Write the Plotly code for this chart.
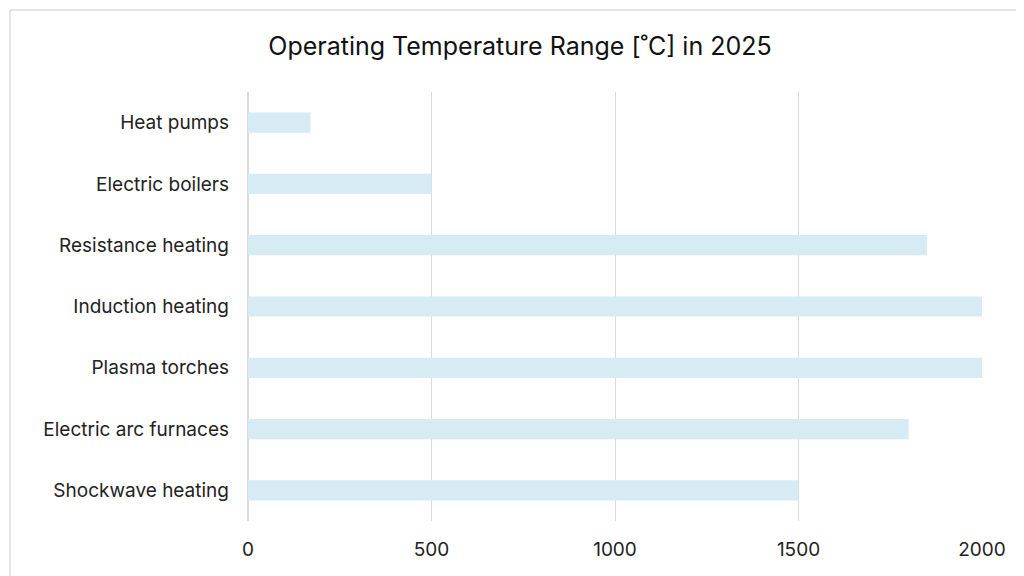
import plotly.graph_objects as go

technologies = ["Heat pumps", "Electric boilers", "Resistance heating", "Induction heating",
                "Plasma torches", "Electric arc furnaces", "Shockwave heating"]
max_temp = [170, 500, 1850, 2000, 2000, 1800, 1500]
tick_vals = [0, 500, 1000, 1500, 2000]

fig = go.Figure(go.Bar(
    x=max_temp, y=technologies, orientation="h",
    marker=dict(color="#d6ebf3", line=dict(width=0)),
))

# plot area: 734 x 429 px
fig.update_layout(
    width=1024, height=576,
    paper_bgcolor="white", plot_bgcolor="white",
    font=dict(family="Inter, sans-serif", size=19, color="#222"),
    title=dict(text="Operating Temperature Range [˚C] in 2025", x=0.5, xanchor="center",
               y=0.934, yanchor="middle", font=dict(size=25, color="#111")),
    margin=dict(l=240, r=50, t=84, b=63, autoexpand=False),
    bargap=0.67,
    showlegend=False,
    shapes=[dict(type="rect", xref="paper", yref="paper",
                 x0=-238 / 734, x1=1 + 48 / 734, y0=-61 / 429, y1=1 + 82 / 429,
                 line=dict(color="#cccccc", width=1))],
)
fig.update_xaxes(range=[0, 2000], tickvals=tick_vals, showgrid=True, gridcolor="#d9d9d9",
                 gridwidth=1, zeroline=True, zerolinecolor="#d9d9d9", showline=False,
                 ticks="", ticklabelstandoff=15, automargin=False)
fig.update_yaxes(autorange="reversed", showgrid=False, ticks="", ticklabelstandoff=18,
                 automargin=False)

fig.write_html("out.html")
